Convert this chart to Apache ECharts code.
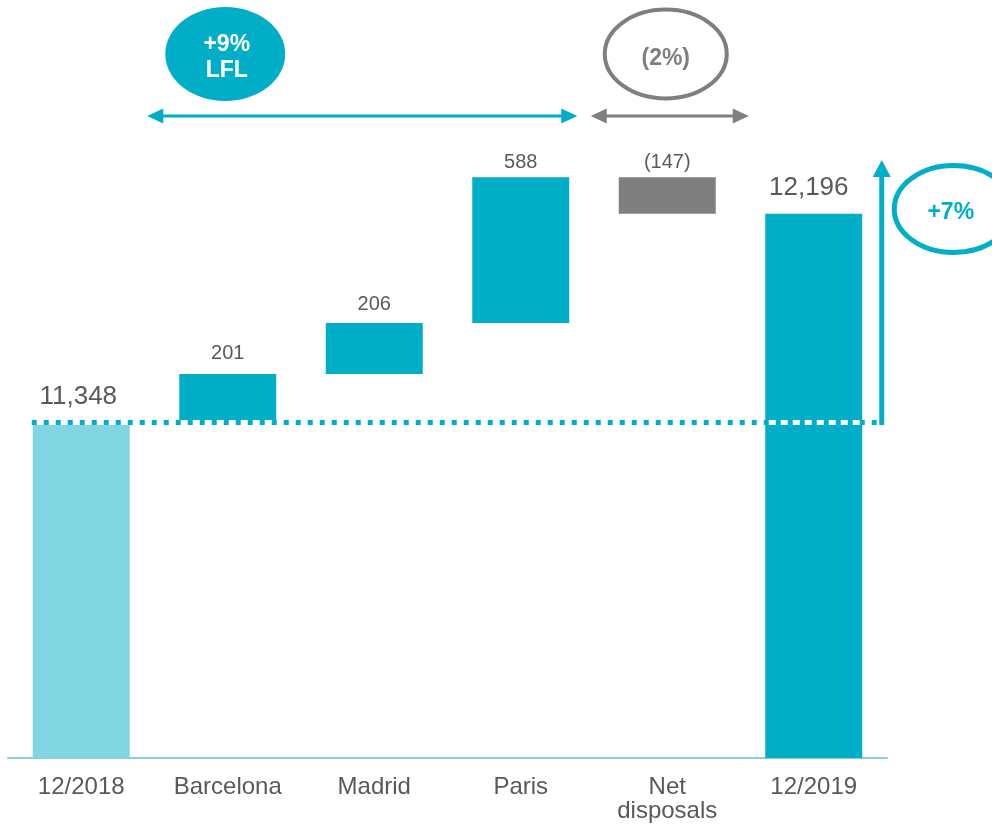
<!DOCTYPE html>
<html>
<head>
<meta charset="utf-8">
<script src="https://cdn.jsdelivr.net/npm/echarts@6/dist/echarts.min.js"></script>
<style>
html,body{margin:0;padding:0;background:#fff;}
#chart{width:992px;height:824px;}
</style>
</head>
<body>
<div id="chart"></div>
<script>
// ---- data ----
const categories = ['12/2018', 'Barcelona', 'Madrid', 'Paris', 'Net\ndisposals', '12/2019'];
const startValue = 11348;
const changes = [201, 206, 588, -147];
const endValue = 12196;
const valueLabels = ['11,348', '201', '206', '588', '(147)', '12,196'];
const lflText = '+9%\nLFL';
const disposalText = '(2%)';
const totalText = '+7%';

// ---- styles ----
const TEAL = '#00aec7';
const LIGHT = '#80d5e0';
const GREY = '#7f7f7f';
const TEXT = '#595959';
const FONT = '"Liberation Sans", Arial, sans-serif';

// build waterfall stacks from the values
const bases = [0];
const heights = [startValue];
let running = startValue;
changes.forEach(c => {
  if (c >= 0) { bases.push(running); heights.push(c); running += c; }
  else { running += c; bases.push(running); heights.push(-c); }
});
bases.push(0);
heights.push(endValue);

const colors = [LIGHT, TEAL, TEAL, TEAL, GREY, TEAL];
const labelSize = [26, 20, 20, 20, 20, 26];
const labelDist = [14, 11, 9, 5, 5, 13];
const labelOffset = [[-3, 0], [0, 0], [0, 0], [0, 0], [0, 0], [-5, 0]];

const chart = echarts.init(document.getElementById('chart'));
chart.setOption({
  animation: false,
  grid: { left: 8, right: 105, top: 64, bottom: 66 },
  xAxis: {
    type: 'category',
    data: categories,
    axisLine: { lineStyle: { color: '#8ecbdb', width: 2 } },
    axisTick: { show: false },
    axisLabel: { fontSize: 24, color: TEXT, margin: 17, lineHeight: 24, interval: 0, fontFamily: FONT }
  },
  yAxis: { type: 'value', min: 10000, max: 12800, show: false, splitLine: { show: false } },
  series: [
    {
      type: 'bar', stack: 'w', barWidth: 97, silent: true,
      itemStyle: { color: 'rgba(0,0,0,0)' },
      data: bases
    },
    {
      type: 'bar', stack: 'w', barWidth: 97,
      data: heights.map((h, i) => ({
        value: h,
        itemStyle: { color: colors[i] },
        label: {
          show: true, position: 'top', distance: labelDist[i], offset: labelOffset[i],
          fontSize: labelSize[i], lineHeight: labelSize[i], color: TEXT, fontFamily: FONT,
          formatter: () => valueLabels[i]
        }
      }))
    }
  ]
});

// ---- annotations positioned from the axes ----
const xc = i => chart.convertToPixel({ xAxisIndex: 0 }, i);
const yv = v => chart.convertToPixel({ yAxisIndex: 0 }, v);

function hArrow(x1, x2, y, color) {
  const hl = 16, hh = 7.5;
  return [
    { type: 'line', z: 100, shape: { x1: x1 + hl - 1, y1: y, x2: x2 - hl + 1, y2: y }, style: { stroke: color, lineWidth: 3 } },
    { type: 'polygon', z: 100, shape: { points: [[x1, y], [x1 + hl, y - hh], [x1 + hl, y + hh]] }, style: { fill: color } },
    { type: 'polygon', z: 100, shape: { points: [[x2, y], [x2 - hl, y - hh], [x2 - hl, y + hh]] }, style: { fill: color } }
  ];
}

const y0 = yv(startValue) - 1.5;
const xStart = xc(0) - 49.5;
const xEnd = xc(5) + 63;
const xV = xc(5) + 68;
const boldFont = 'bold 23px ' + FONT;

const g = [];
// LFL bubble
g.push({ type: 'ellipse', z: 100, shape: { cx: xc(1) - 2.5, cy: 54, rx: 60, ry: 47 }, style: { fill: TEAL } });
g.push({ type: 'text', z: 101, style: { text: lflText, x: xc(1) - 1, y: 57.5, textAlign: 'center', textVerticalAlign: 'middle', font: boldFont, lineHeight: 26, fill: '#ffffff' } });
g.push(...hArrow(xc(1) - 80.5, xc(3) + 56.5, 116, TEAL));
// disposal bubble
g.push({ type: 'ellipse', z: 100, shape: { cx: xc(4) - 1.5, cy: 54, rx: 61, ry: 44.5 }, style: { fill: 'none', stroke: GREY, lineWidth: 4 } });
g.push({ type: 'text', z: 101, style: { text: disposalText, x: xc(4) - 1.5, y: 59, textAlign: 'center', textVerticalAlign: 'middle', font: boldFont, fill: GREY } });
g.push(...hArrow(xc(4) - 76.5, xc(4) + 81.5, 116, GREY));
// total bubble
g.push({ type: 'ellipse', z: 100, shape: { cx: xc(5) + 140, cy: 209, rx: 59.5, ry: 43.5 }, style: { fill: 'none', stroke: TEAL, lineWidth: 5 } });
g.push({ type: 'text', z: 101, style: { text: totalText, x: xc(5) + 137, y: 213, textAlign: 'center', textVerticalAlign: 'middle', font: boldFont, fill: TEAL } });
// dotted reference line
g.push({ type: 'line', z: 100, shape: { x1: xStart, y1: y0, x2: xEnd, y2: y0 }, style: { stroke: '#ffffff', lineWidth: 5 } });
g.push({ type: 'line', z: 101, shape: { x1: xStart, y1: y0, x2: xEnd, y2: y0 }, style: { stroke: TEAL, lineWidth: 5, lineDash: [5, 7] } });
// vertical arrow
g.push({ type: 'line', z: 100, shape: { x1: xV, y1: y0 + 2.5, x2: xV, y2: 175 }, style: { stroke: TEAL, lineWidth: 5 } });
g.push({ type: 'polygon', z: 100, shape: { points: [[xV, 160], [xV - 9, 177], [xV + 9, 177]] }, style: { fill: TEAL } });

chart.setOption({ graphic: g });
</script>
</body>
</html>
